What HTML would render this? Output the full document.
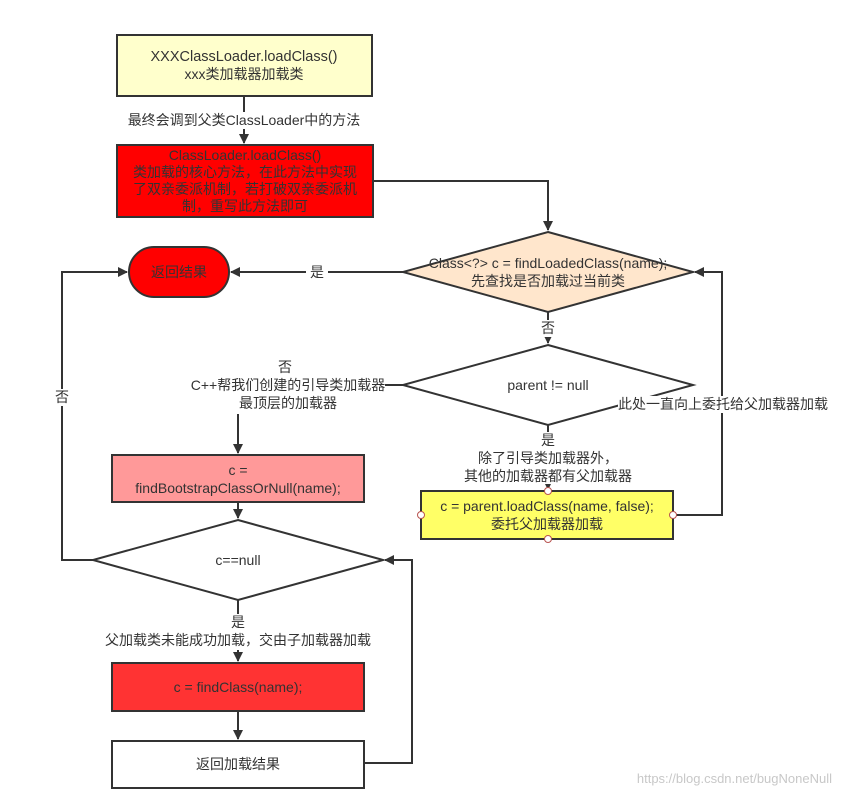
<!DOCTYPE html>
<html><head><meta charset="utf-8"><style>
html,body{margin:0;padding:0;background:#fff;}
svg text{font-family:"Liberation Sans","Noto Sans CJK SC",sans-serif;font-size:14px;fill:#333;}
</style></head><body>
<svg width="842" height="798" viewBox="0 0 842 798" xmlns="http://www.w3.org/2000/svg">
<defs><marker id="a" markerWidth="10" markerHeight="10" refX="9" refY="5" orient="auto" markerUnits="userSpaceOnUse"><path d="M0,0 L10,5 L0,10 Z" fill="#333"/></marker></defs>
<g stroke="#333" stroke-width="2" fill="none">
<line x1="244" y1="96" x2="244" y2="143" marker-end="url(#a)"/>
<polyline points="373,181 548,181 548,230" marker-end="url(#a)"/>
<line x1="403" y1="272" x2="231" y2="272" marker-end="url(#a)"/>
<line x1="548" y1="312" x2="548" y2="343" marker-end="url(#a)"/>
<line x1="403" y1="385" x2="385" y2="385"/>
<line x1="238" y1="414" x2="238" y2="453" marker-end="url(#a)"/>
<line x1="548" y1="425" x2="548" y2="489" marker-end="url(#a)"/>
<polyline points="673,515 722,515 722,272 695,272" marker-end="url(#a)"/>
<line x1="238" y1="502" x2="238" y2="518" marker-end="url(#a)"/>
<polyline points="93,560 62,560 62,272 127,272" marker-end="url(#a)"/>
<line x1="238" y1="600" x2="238" y2="661" marker-end="url(#a)"/>
<line x1="238" y1="711" x2="238" y2="739" marker-end="url(#a)"/>
<polyline points="364,763 412,763 412,560 385,560" marker-end="url(#a)"/>
</g>
<g stroke="#333" stroke-width="2">
<rect x="117" y="35" width="255" height="61" fill="#ffffcc"/>
<rect x="117" y="145" width="256" height="72" fill="#ff0000"/>
<rect x="129" y="247" width="100" height="50" rx="25" fill="#ff0000"/>
<polygon points="548,232 693,272 548,312 403,272" fill="#ffe6cc"/>
<polygon points="548,345 693,385 548,425 403,385" fill="#fff"/>
<rect x="421" y="491" width="252" height="48" fill="#ffff66"/>
<rect x="112" y="455" width="252" height="47" fill="#ff9999"/>
<polygon points="238,520 383,560 238,600 93,560" fill="#fff"/>
<rect x="112" y="663" width="252" height="48" fill="#ff3333"/>
<rect x="112" y="741" width="252" height="47" fill="#fff"/>
</g>
<g fill="#fff" stroke="#b85450" stroke-width="1">
<circle cx="548" cy="491" r="3.5"/><circle cx="548" cy="539" r="3.5"/>
<circle cx="421" cy="515" r="3.5"/><circle cx="673" cy="515" r="3.5"/>
</g>
<g fill="#fff">
<rect x="125" y="112" width="240" height="17"/>
<rect x="306" y="264" width="22" height="17"/>
<rect x="539" y="320" width="18" height="17"/>
<rect x="618" y="396" width="212" height="17"/>
<rect x="54" y="389" width="17" height="17"/>
<rect x="180" y="360" width="205" height="52"/>
<rect x="455" y="432" width="186" height="52"/>
<rect x="100" y="614" width="276" height="36"/>
</g>
<g text-anchor="middle">
<text x="244" y="61" style="font-size:14.5px">XXXClassLoader.loadClass()</text>
<text x="244" y="79">xxx类加载器加载类</text>
<text x="244" y="125">最终会调到父类ClassLoader中的方法</text>
<text x="245" y="160">ClassLoader.loadClass()</text>
<text x="245" y="177">类加载的核心方法，在此方法中实现</text>
<text x="245" y="194">了双亲委派机制，若打破双亲委派机</text>
<text x="245" y="211">制，重写此方法即可</text>
<text x="179" y="277">返回结果</text>
<text x="317" y="277">是</text>
<text x="548" y="268">Class&lt;?&gt; c = findLoadedClass(name);</text>
<text x="548" y="286">先查找是否加载过当前类</text>
<text x="548" y="333">否</text>
<text x="548" y="390">parent != null</text>
<text x="723" y="409">此处一直向上委托给父加载器加载</text>
<text x="285" y="372">否</text>
<text x="288" y="390">C++帮我们创建的引导类加载器</text>
<text x="288" y="408">最顶层的加载器</text>
<text x="62" y="402">否</text>
<text x="548" y="445">是</text>
<text x="548" y="463">除了引导类加载器外，</text>
<text x="548" y="481">其他的加载器都有父加载器</text>
<text x="547" y="511">c = parent.loadClass(name, false);</text>
<text x="547" y="529">委托父加载器加载</text>
<text x="238" y="475">c =</text>
<text x="238" y="493">findBootstrapClassOrNull(name);</text>
<text x="238" y="565">c==null</text>
<text x="238" y="627">是</text>
<text x="238" y="645">父加载类未能成功加载，交由子加载器加载</text>
<text x="238" y="692">c = findClass(name);</text>
<text x="238" y="769">返回加载结果</text>
</g>
<text x="832" y="783" text-anchor="end" style="fill:#c8c8c8;font-size:13px">https://blog.csdn.net/bugNoneNull</text>
</svg>
</body></html>
